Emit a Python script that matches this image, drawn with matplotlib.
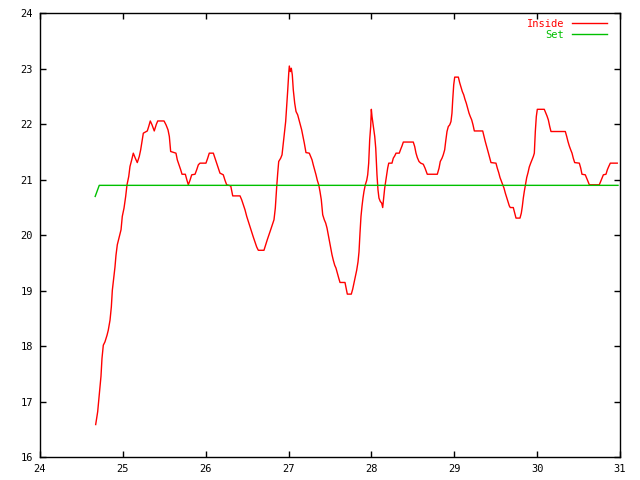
import matplotlib
matplotlib.use("Agg")
import matplotlib.pyplot as plt

# day of month vs temperature
inside_day = [
    24.672, 24.696, 24.716, 24.736, 24.748, 24.764, 24.784, 24.809, 24.824, 24.845,
    24.861, 24.873, 24.889, 24.905, 24.917, 24.933, 24.957, 24.978, 24.993, 25.014,
    25.034, 25.050, 25.071, 25.086, 25.107, 25.126, 25.150, 25.174, 25.198, 25.215,
    25.231, 25.247, 25.295, 25.312, 25.331, 25.352, 25.379, 25.404, 25.421, 25.497,
    25.521, 25.545, 25.561, 25.577, 25.641, 25.657, 25.678, 25.698, 25.714, 25.754,
    25.774, 25.790, 25.810, 25.831, 25.871, 25.891, 25.911, 25.931, 26.003, 26.024,
    26.043, 26.092, 26.112, 26.133, 26.152, 26.172, 26.212, 26.233, 26.253, 26.302,
    26.326, 26.414, 26.434, 26.454, 26.474, 26.495, 26.514, 26.535, 26.555, 26.574,
    26.595, 26.615, 26.635, 26.703, 26.724, 26.743, 26.764, 26.784, 26.804, 26.824,
    26.840, 26.857, 26.869, 26.881, 26.905, 26.921, 26.936, 26.948, 26.965, 26.977,
    26.990, 27.002, 27.009, 27.021, 27.033, 27.045, 27.057, 27.074, 27.090, 27.110,
    27.126, 27.142, 27.158, 27.174, 27.190, 27.210, 27.250, 27.267, 27.283, 27.298,
    27.315, 27.331, 27.347, 27.364, 27.379, 27.395, 27.412, 27.431, 27.448, 27.464,
    27.479, 27.496, 27.508, 27.524, 27.540, 27.557, 27.572, 27.588, 27.605, 27.621,
    27.681, 27.693, 27.709, 27.757, 27.774, 27.790, 27.805, 27.822, 27.838, 27.850,
    27.862, 27.874, 27.886, 27.898, 27.910, 27.926, 27.943, 27.955, 27.967, 27.979,
    27.991, 27.999, 28.007, 28.023, 28.040, 28.052, 28.059, 28.067, 28.079, 28.091,
    28.107, 28.124, 28.136, 28.148, 28.160, 28.172, 28.184, 28.196, 28.209, 28.248,
    28.264, 28.281, 28.297, 28.336, 28.353, 28.369, 28.385, 28.505, 28.522, 28.538,
    28.554, 28.574, 28.595, 28.626, 28.647, 28.674, 28.795, 28.816, 28.831, 28.852,
    28.867, 28.884, 28.896, 28.912, 28.928, 28.945, 28.960, 28.972, 28.981, 28.993,
    29.005, 29.049, 29.065, 29.081, 29.097, 29.114, 29.129, 29.145, 29.162, 29.178,
    29.193, 29.210, 29.226, 29.242, 29.343, 29.359, 29.374, 29.391, 29.407, 29.423,
    29.443, 29.503, 29.519, 29.536, 29.552, 29.567, 29.584, 29.600, 29.616, 29.633,
    29.648, 29.664, 29.676, 29.712, 29.729, 29.745, 29.793, 29.809, 29.821, 29.833,
    29.845, 29.862, 29.874, 29.890, 29.905, 29.922, 29.938, 29.954, 29.966, 29.978,
    29.990, 30.002, 30.086, 30.103, 30.119, 30.135, 30.152, 30.167, 30.340, 30.357,
    30.372, 30.388, 30.405, 30.421, 30.436, 30.453, 30.509, 30.526, 30.541, 30.581,
    30.598, 30.614, 30.630, 30.750, 30.767, 30.783, 30.799, 30.831, 30.847, 30.864,
    30.883, 30.967,
]
inside_temp = [
    16.59, 16.82, 17.14, 17.46, 17.78, 18.02, 18.08, 18.20, 18.29, 18.47,
    18.71, 19.01, 19.22, 19.43, 19.64, 19.83, 19.97, 20.10, 20.34, 20.49,
    20.70, 20.91, 21.06, 21.24, 21.36, 21.48, 21.39, 21.31, 21.42, 21.54,
    21.69, 21.84, 21.88, 21.96, 22.06, 21.99, 21.88, 22.00, 22.06, 22.06,
    21.99, 21.90, 21.78, 21.51, 21.48, 21.36, 21.27, 21.18, 21.10, 21.10,
    20.99, 20.91, 20.99, 21.09, 21.10, 21.18, 21.27, 21.30, 21.30, 21.39,
    21.48, 21.48, 21.39, 21.30, 21.21, 21.12, 21.09, 20.99, 20.91, 20.89,
    20.71, 20.71, 20.64, 20.55, 20.46, 20.34, 20.25, 20.15, 20.06, 19.97,
    19.88, 19.79, 19.73, 19.73, 19.83, 19.92, 20.01, 20.10, 20.19, 20.28,
    20.49, 20.88, 21.12, 21.33, 21.39, 21.45, 21.66, 21.81, 22.05, 22.32,
    22.62, 22.92, 23.05, 22.95, 23.01, 22.89, 22.62, 22.38, 22.23, 22.17,
    22.08, 21.99, 21.90, 21.78, 21.66, 21.49, 21.48, 21.42, 21.36, 21.27,
    21.18, 21.09, 20.99, 20.91, 20.79, 20.64, 20.37, 20.28, 20.22, 20.13,
    20.01, 19.88, 19.77, 19.65, 19.55, 19.46, 19.41, 19.32, 19.23, 19.15,
    19.15, 19.06, 18.94, 18.94, 19.03, 19.14, 19.25, 19.37, 19.52, 19.70,
    20.04, 20.34, 20.52, 20.67, 20.79, 20.91, 20.99, 21.09, 21.30, 21.72,
    21.96, 22.27, 22.14, 21.96, 21.78, 21.57, 21.36, 21.09, 20.82, 20.67,
    20.61, 20.58, 20.50, 20.67, 20.85, 20.97, 21.09, 21.21, 21.30, 21.30,
    21.39, 21.43, 21.48, 21.48, 21.55, 21.61, 21.68, 21.68, 21.60, 21.48,
    21.40, 21.33, 21.30, 21.28, 21.21, 21.10, 21.10, 21.21, 21.33, 21.39,
    21.45, 21.54, 21.69, 21.87, 21.96, 21.99, 22.05, 22.20, 22.44, 22.71,
    22.85, 22.85, 22.75, 22.67, 22.59, 22.53, 22.45, 22.38, 22.29, 22.20,
    22.14, 22.08, 21.99, 21.88, 21.88, 21.78, 21.69, 21.60, 21.51, 21.42,
    21.31, 21.30, 21.21, 21.13, 21.04, 20.98, 20.91, 20.85, 20.76, 20.68,
    20.61, 20.53, 20.50, 20.50, 20.40, 20.31, 20.31, 20.40, 20.52, 20.67,
    20.79, 20.94, 21.04, 21.13, 21.23, 21.30, 21.36, 21.42, 21.48, 21.87,
    22.14, 22.27, 22.27, 22.21, 22.15, 22.08, 21.96, 21.87, 21.87, 21.78,
    21.69, 21.61, 21.54, 21.48, 21.39, 21.31, 21.30, 21.21, 21.10, 21.09,
    21.03, 20.97, 20.91, 20.91, 20.97, 21.03, 21.09, 21.10, 21.18, 21.24,
    21.30, 21.30,
]

set_day = [24.666, 24.715, 30.976]
set_temp = [20.7, 20.9, 20.9]

xticks = [24, 25, 26, 27, 28, 29, 30, 31]
yticks = [16, 17, 18, 19, 20, 21, 22, 23, 24]

plt.rcParams['font.family'] = ['DejaVu Sans Mono']

fig = plt.figure(figsize=(6.4, 4.8), dpi=100)
ax = fig.add_axes([0.0625, 0.0473, 0.90625, 0.925])

ax.plot(inside_day, inside_temp, color='#ff0000', lw=1.0, label='Inside')
ax.plot(set_day, set_temp, color='#00c000', lw=1.0, label='Set')

ax.set_xlim(24, 31)
ax.set_ylim(16, 24)
ax.set_xticks(xticks)
ax.set_yticks(yticks)
ax.tick_params(direction='in', length=4, width=1, top=True, right=True,
               labelsize=7.5, pad=5)
for s in ax.spines.values():
    s.set_linewidth(1)

ax.legend(loc='upper right', bbox_to_anchor=(0.986, 1.0), frameon=False,
          markerfirst=False, labelcolor='linecolor', fontsize=7.5,
          handlelength=3.3, handletextpad=0.8, labelspacing=0.12,
          borderaxespad=0.3, borderpad=0.2)

fig.savefig('out.png', dpi=100)
